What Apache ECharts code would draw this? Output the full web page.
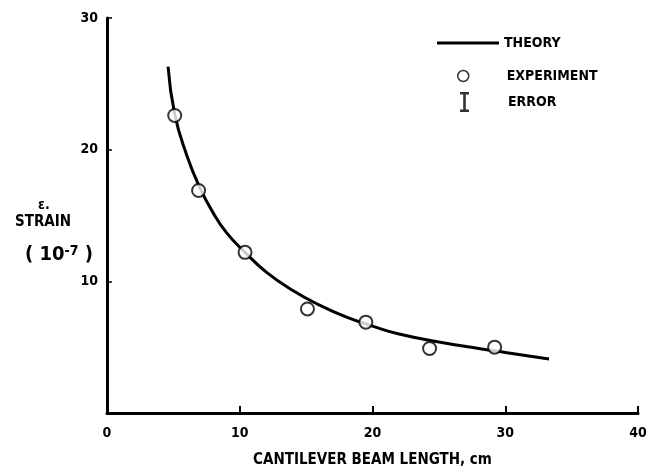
<!DOCTYPE html>
<html>
<head>
<meta charset="utf-8">
<script src="https://cdn.jsdelivr.net/npm/echarts@6/dist/echarts.min.js"></script>
<style>
  html, body { margin: 0; padding: 0; background: #fff; }
  #chart { width: 650px; height: 468px; }
</style>
</head>
<body>
<div id="chart"></div>
<script>
// theory curve
const theoryX = [4.6, 5.1, 6, 7, 8, 9, 10.4, 12, 14, 16, 18, 20, 22, 25, 28, 30, 33.3]
const theoryY = [26.3, 22.7, 19.6, 17.1, 15.2, 13.7, 12.2, 10.7, 9.3, 8.2, 7.3, 6.6, 6.0, 5.4, 4.9, 4.6, 4.1]

// experiment points
const expX = [5.1, 6.9, 10.4, 15.1, 19.5, 24.3, 29.2]
const expY = [22.6, 16.9, 12.2, 7.9, 6.9, 4.9, 5.0]

const xTicks = [0, 10, 20, 30, 40]
const yTicks = [0, 10, 20, 30]

const font = 'DejaVu Sans Condensed'
const errorIcon = 'path://M0,0H9V2.4H5.8V17.6H9V20H0V17.6H3.2V2.4H0Z'

const chart = echarts.init(document.getElementById('chart'))

const axisText = { color: '#000', fontFamily: font, fontWeight: 'bold', fontSize: 14 }
const legendText = { color: '#000', fontFamily: font, fontWeight: 'bold', fontSize: 14 }

const option = {
  backgroundColor: '#fff',
  animation: false,
  grid: { left: 107, right: 12, top: 18, bottom: 55, outerBoundsMode: 'none' },
  legend: [
    {
      data: ['THEORY'], left: 432, top: 31, icon: 'rect',
      itemWidth: 62, itemHeight: 3, textStyle: legendText
    },
    {
      data: ['EXPERIMENT'], left: 452, top: 64, icon: 'circle',
      itemWidth: 11, itemHeight: 11,
      itemStyle: { color: '#fff', borderColor: '#000', borderWidth: 1.5 },
      textStyle: Object.assign({ padding: [0, 0, 0, 33] }, legendText)
    },
    {
      data: ['ERROR'], left: 455, top: 87, icon: errorIcon,
      itemWidth: 9, itemHeight: 20, itemStyle: { color: '#000' },
      textStyle: Object.assign({ padding: [0, 0, 0, 34] }, legendText)
    }
  ],
  xAxis: {
    type: 'value',
    min: xTicks[0],
    max: xTicks[xTicks.length - 1],
    interval: 10,
    name: 'CANTILEVER BEAM LENGTH, cm',
    nameLocation: 'middle',
    nameGap: 40,
    nameTextStyle: { color: '#000', fontFamily: font, fontWeight: 'bold', fontSize: 15 },
    axisLine: { lineStyle: { color: '#000', width: 3 } },
    axisTick: { inside: true, length: 7, lineStyle: { color: '#000', width: 2 } },
    axisLabel: Object.assign({ margin: 13 }, axisText),
    splitLine: { show: false }
  },
  yAxis: {
    type: 'value',
    min: yTicks[0],
    max: yTicks[yTicks.length - 1],
    interval: 10,
    axisLine: { lineStyle: { color: '#000', width: 3 } },
    axisTick: { inside: true, length: 5, lineStyle: { color: '#000', width: 1.5 } },
    axisLabel: Object.assign({ margin: 9, showMinLabel: false }, axisText),
    splitLine: { show: false }
  },
  graphic: [
    { type: 'text', left: 38, top: 198, style: { text: 'ε.', font: 'bold 14px ' + font, fill: '#000' } },
    { type: 'text', left: 15, top: 215, style: { text: 'STRAIN', font: 'bold 15px ' + font, fill: '#000' } },
    {
      type: 'text', left: 25, top: 244,
      style: {
        text: '{a|( 10}{b|-7}{a| )}',
        rich: {
          a: { fontFamily: font, fontWeight: 'bold', fontSize: 20, fill: '#000', color: '#000' },
          b: { fontFamily: font, fontWeight: 'bold', fontSize: 14, fill: '#000', color: '#000', verticalAlign: 'top', padding: [0, 0, 8, 0] }
        }
      }
    }
  ],
  series: [
    {
      name: 'THEORY',
      type: 'line',
      smooth: true,
      showSymbol: false,
      color: '#000',
      lineStyle: { color: '#000', width: 3 },
      data: theoryX.map((x, i) => [x, theoryY[i]]),
      z: 2
    },
    {
      name: 'EXPERIMENT',
      type: 'scatter',
      symbol: 'circle',
      symbolSize: 13,
      itemStyle: { color: '#fff', borderColor: '#000', borderWidth: 2 },
      data: expX.map((x, i) => [x, expY[i]]),
      z: 3
    },
    {
      name: 'ERROR',
      type: 'scatter',
      symbol: errorIcon,
      itemStyle: { color: '#000' },
      data: []
    }
  ]
}

chart.setOption(option)
window.addEventListener('resize', chart.resize)
</script>
</body>
</html>
